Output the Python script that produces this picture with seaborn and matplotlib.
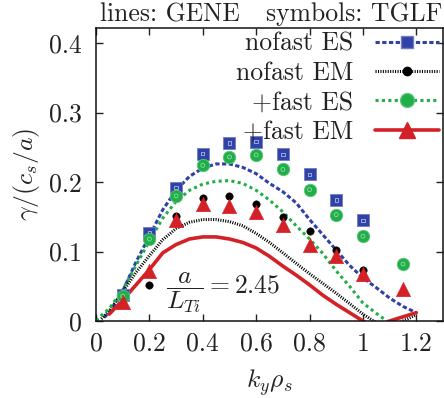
import numpy as np
import seaborn as sns
import matplotlib
matplotlib.use("Agg")
import matplotlib.pyplot as plt
from matplotlib.lines import Line2D

# GENE growth rates (lines)
ky_es = [0.03, 0.05, 0.10, 0.15, 0.20, 0.25, 0.30, 0.35, 0.40, 0.45, 0.50, 0.55, 0.60,
         0.65, 0.70, 0.75, 0.80, 0.85, 0.90, 0.95, 1.00, 1.05, 1.10, 1.15, 1.20]
gene_nofast_es = [0.005, 0.012, 0.043, 0.085, 0.122, 0.160, 0.188, 0.208, 0.220, 0.226, 0.226,
                  0.221, 0.212, 0.198, 0.186, 0.170, 0.146, 0.124, 0.102, 0.080, 0.062,
                  0.048, 0.033, 0.021, 0.012]

ky_em = [0.02, 0.05, 0.10, 0.15, 0.20, 0.25, 0.30, 0.35, 0.40, 0.45, 0.50, 0.55, 0.60,
         0.65, 0.70, 0.75, 0.80, 0.85, 0.90, 0.95, 1.00, 1.04, 1.10, 1.15, 1.20]
gene_nofast_em = [0.003, 0.015, 0.042, 0.070, 0.094, 0.117, 0.133, 0.142, 0.146, 0.146, 0.143,
                  0.137, 0.126, 0.113, 0.098, 0.083, 0.068, 0.054, 0.040, 0.025, 0.010,
                  0.0, -0.010, 0.0, 0.009]

ky_fes = [0.0, 0.05, 0.10, 0.15, 0.20, 0.25, 0.30, 0.35, 0.40, 0.45, 0.50, 0.55, 0.60,
          0.65, 0.70, 0.75, 0.80, 0.85, 0.90, 0.95, 1.00, 1.05, 1.09]
gene_fast_es = [0.001, 0.018, 0.045, 0.080, 0.115, 0.148, 0.172, 0.188, 0.197, 0.201, 0.202,
                0.198, 0.188, 0.174, 0.157, 0.137, 0.118, 0.097, 0.072, 0.050, 0.026,
                0.011, 0.0]

ky_fem = [0.05, 0.10, 0.15, 0.20, 0.25, 0.30, 0.35, 0.40, 0.45, 0.50, 0.55, 0.60, 0.65,
          0.70, 0.75, 0.80, 0.85, 0.90, 0.95, 1.00, 1.05, 1.10, 1.15, 1.20]
gene_fast_em = [0.010, 0.030, 0.052, 0.074, 0.098, 0.110, 0.118, 0.121, 0.121, 0.118, 0.113,
                0.105, 0.093, 0.079, 0.066, 0.052, 0.037, 0.024, 0.012, 0.0, -0.010,
                0.0, 0.006, 0.012]

# TGLF growth rates (symbols)
ky_tglf = [0.1, 0.2, 0.3, 0.4, 0.5, 0.6, 0.7, 0.8, 0.9, 1.0]
ky_tglf_fast = [0.1, 0.2, 0.3, 0.4, 0.5, 0.6, 0.7, 0.8, 0.9, 1.0, 1.15]
tglf_nofast_es = [0.037, 0.127, 0.192, 0.241, 0.256, 0.258, 0.240, 0.211, 0.174, 0.145]
tglf_nofast_em = [0.035, 0.052, 0.151, 0.177, 0.180, 0.169, 0.149, 0.129, 0.102, 0.074]
tglf_fast_es = [0.036, 0.118, 0.180, 0.224, 0.236, 0.239, 0.218, 0.189, 0.153, 0.122, 0.082]
tglf_fast_em = [0.027, 0.072, 0.145, 0.168, 0.166, 0.157, 0.138, 0.110, 0.093, 0.068, 0.046]

labels = ["nofast ES", "nofast EM", "+fast ES", "+fast EM"]
xticks = [0, 0.2, 0.4, 0.6, 0.8, 1.0, 1.2]
xticklabels = ["0", "0.2", "0.4", "0.6", "0.8", "1", "1.2"]
yticks = [0, 0.1, 0.2, 0.3, 0.4]
yticklabels = ["0", "0.1", "0.2", "0.3", "0.4"]

blue = "#3142a6"
green = "#1fae48"
red = "#d42027"
black = "#000000"

sns.set_style("ticks")
plt.rcParams["font.family"] = ["cmr10", "DejaVu Serif"]
plt.rcParams["mathtext.fontset"] = "cm"
plt.rcParams["axes.unicode_minus"] = False
plt.rcParams["axes.formatter.use_mathtext"] = True
fs = 18.5

fig = plt.figure(figsize=(4.44, 3.98), dpi=100)
ax = fig.add_axes([96 / 444, 77 / 398, 347 / 444, 293 / 398])

ls_blue = (0, (1.4, 0.8))
ls_black = (0, (0.35, 0.45))
ls_green = (0, (1.0, 1.1))
lw = 2.2

sns.lineplot(x=ky_es, y=gene_nofast_es, ax=ax, color=blue, lw=lw, linestyle=ls_blue, zorder=2)
sns.lineplot(x=ky_em, y=gene_nofast_em, ax=ax, color=black, lw=lw, linestyle=ls_black, zorder=2)
sns.lineplot(x=ky_fes, y=gene_fast_es, ax=ax, color=green, lw=lw, linestyle=ls_green, zorder=2)
sns.lineplot(x=ky_fem, y=gene_fast_em, ax=ax, color=red, lw=2.6, zorder=2)

sns.scatterplot(x=ky_tglf, y=tglf_nofast_es, ax=ax, marker="s", s=70, color=blue,
                edgecolor="#6f7cc4", linewidth=0.6, zorder=3)
sns.scatterplot(x=ky_tglf, y=tglf_nofast_es, ax=ax, marker="s", s=6, facecolor="none",
                edgecolor="#c8cdee", linewidth=0.5, zorder=3)
sns.scatterplot(x=ky_tglf, y=tglf_nofast_em, ax=ax, marker="o", s=28, color=black,
                edgecolor=black, zorder=4)
sns.scatterplot(x=ky_tglf_fast, y=tglf_fast_es, ax=ax, marker="o", s=80, color=green,
                edgecolor="#5cc47a", linewidth=0.6, zorder=5)
sns.scatterplot(x=ky_tglf_fast, y=tglf_fast_es, ax=ax, marker="o", s=8, facecolor="none",
                edgecolor="#a8e0b8", linewidth=0.5, zorder=5)
sns.scatterplot(x=ky_tglf_fast, y=tglf_fast_em, ax=ax, marker="^", s=110, color=red,
                edgecolor=red, linewidth=0.3, zorder=6)

ax.set_xlim(0, 1.3)
ax.set_ylim(0, 0.4216)
ax.set_xticks(xticks)
ax.set_xticklabels(xticklabels)
ax.set_yticks(yticks)
ax.set_yticklabels(yticklabels)
ax.tick_params(direction="in", length=5, width=1, top=True, right=True,
               labelsize=fs, colors="#222222")
ax.tick_params(axis="x", pad=8)
ax.tick_params(axis="y", pad=10)
for sp in ax.spines.values():
    sp.set_linewidth(1.1)
    sp.set_color("#111111")

ax.set_xlabel(r"$k_y\rho_s$", fontsize=fs, labelpad=8)
ax.set_ylabel(r"$\gamma/(c_s/a)$", fontsize=fs, labelpad=5)

ax.text(0.476, 0.041, r"$\dfrac{a}{L_{Ti}}=2.45$", fontsize=fs, ha="center", va="center",
        color="#222222")

handles = [
    Line2D([], [], color=blue, lw=lw, linestyle=ls_blue, marker="s", markersize=9,
           markeredgecolor="#6f7cc4"),
    Line2D([], [], color=black, lw=lw, linestyle=ls_black, marker="o", markersize=6),
    Line2D([], [], color=green, lw=lw, linestyle=ls_green, marker="o", markersize=10,
           markeredgecolor="#5cc47a"),
    Line2D([], [], color=red, lw=2.6, marker="^", markersize=11),
]
leg = ax.legend(handles, labels, loc="upper right", bbox_to_anchor=(1.0, 1.0),
                markerfirst=False, frameon=False, fontsize=fs, handlelength=2.5,
                handletextpad=0.85, labelspacing=0.22, borderaxespad=0, borderpad=0.15,
                numpoints=1)
for t in leg.get_texts():
    t.set_color("#222222")

fig.text(100 / 444, 1 - 21 / 398, "lines: GENE", fontsize=fs, ha="left", va="baseline",
         color="#222222")
fig.text(442 / 444, 1 - 21 / 398, "symbols: TGLF", fontsize=fs, ha="right", va="baseline",
         color="#222222")

fig.savefig("out.png", dpi=100)
